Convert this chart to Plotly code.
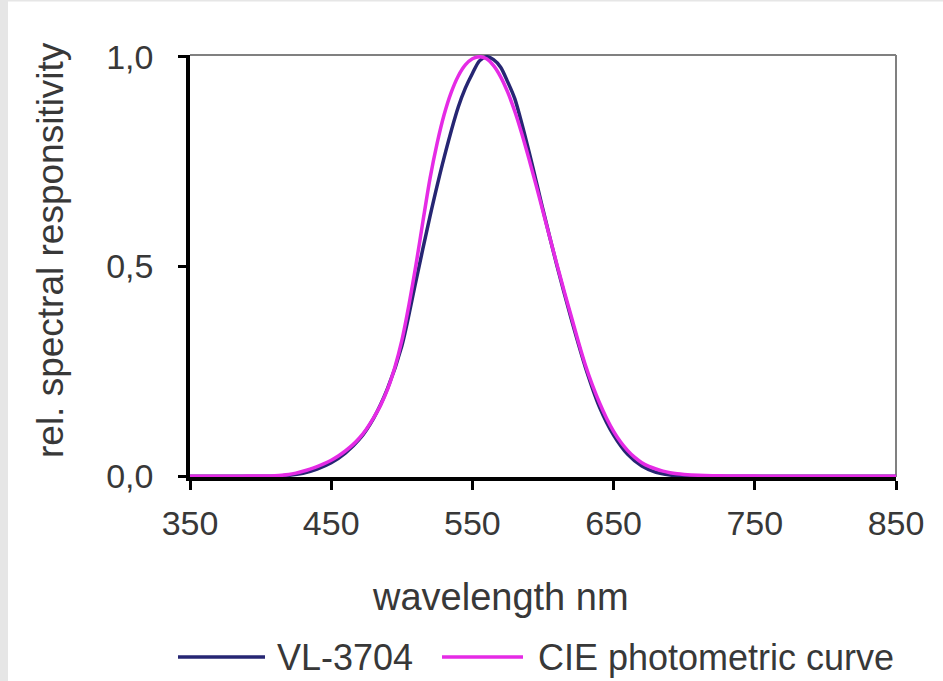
import plotly.graph_objects as go

# ---- data ----
cie_wl = [350, 360, 370, 380, 385, 390, 395, 400, 405, 410, 415, 420, 425, 430, 435, 440, 445,
          450, 455, 460, 465, 470, 475, 480, 485, 490, 495, 500, 505, 510, 515, 520, 525,
          530, 535, 540, 545, 550, 555, 560, 565, 570, 575, 580, 585, 590, 595, 600, 605,
          610, 615, 620, 625, 630, 635, 640, 645, 650, 655, 660, 665, 670, 675, 680, 685,
          690, 695, 700, 710, 720, 730, 740, 750, 760, 770, 780, 800, 820, 850]
cie_val = [0, 0, 0, 0.00004, 0.00006, 0.00012, 0.00022, 0.0004, 0.00064, 0.0012, 0.0022, 0.004,
           0.0073, 0.0116, 0.0168, 0.023, 0.0298, 0.038, 0.048, 0.06, 0.0739, 0.091, 0.1126,
           0.139, 0.1693, 0.208, 0.2586, 0.323, 0.4073, 0.503, 0.6082, 0.71, 0.7932, 0.862,
           0.9149, 0.954, 0.9803, 0.995, 1.0, 0.995, 0.9786, 0.952, 0.9154, 0.87, 0.8163,
           0.757, 0.6949, 0.631, 0.5668, 0.503, 0.4412, 0.381, 0.321, 0.265, 0.217, 0.175,
           0.1382, 0.107, 0.0816, 0.061, 0.0446, 0.032, 0.0232, 0.017, 0.0119, 0.0082,
           0.0057, 0.0041, 0.0021, 0.001, 0.0005, 0.00025, 0.00012, 0.00006, 0.00003,
           0.000015, 0, 0, 0]

vl_wl = [350, 380, 400, 410, 420, 430, 440, 450, 460, 470, 480, 490, 500, 510, 520, 530, 540,
         545, 550, 555, 560, 565, 570, 575, 580, 590, 600, 610, 620, 630, 640, 650, 660, 670,
         680, 690, 700, 750, 800, 850]
vl_val = [0, 0, 0, 0, 0.002, 0.007, 0.017, 0.032, 0.055, 0.088, 0.138, 0.21, 0.31, 0.465,
          0.62, 0.76, 0.88, 0.925, 0.96, 0.99, 1.0, 0.993, 0.975, 0.94, 0.9, 0.775, 0.635,
          0.5, 0.375, 0.26, 0.165, 0.098, 0.052, 0.024, 0.009, 0.003, 0, 0, 0, 0]

series_names = ["VL-3704", "CIE photometric curve"]
series_colors = ["#262673", "#e52be5"]

x_ticks = [350, 450, 550, 650, 750, 850]
y_ticks = [0, 0.5, 1.0]
x_title = "wavelength nm"
y_title = "rel. spectral responsitivity"

# ---- layout geometry (pixels) ----
W, H = 943, 681
L, R, T, B = 190, 47, 55, 204
PW, PH = W - L - R, H - T - B


def xp(px):
    return (px - L) / PW


def yp(py):
    return (H - B - py) / PH


FONT = "Liberation Sans, Arial, sans-serif"
TXT = "#383838"

fig = go.Figure()
fig.add_trace(go.Scatter(x=vl_wl, y=vl_val, mode="lines", name=series_names[0],
                         line=dict(color=series_colors[0], width=3.5, shape="spline", smoothing=0.8),
                         showlegend=False))
fig.add_trace(go.Scatter(x=cie_wl, y=cie_val, mode="lines", name=series_names[1],
                         line=dict(color=series_colors[1], width=3.5, shape="spline", smoothing=0.8),
                         showlegend=False))

shapes = [
    # light gray frame strips of the picture
    dict(type="rect", xref="paper", yref="paper", x0=xp(0), x1=xp(8), y0=yp(H + 5), y1=yp(-5),
         fillcolor="#e6e6e6", line=dict(width=0), layer="below"),
    dict(type="rect", xref="paper", yref="paper", x0=xp(0), x1=xp(W + 5), y0=yp(1.5), y1=yp(-5),
         fillcolor="#e6e6e6", line=dict(width=0), layer="below"),
    # gray top and right border of plot area
    dict(type="line", xref="paper", yref="paper", x0=0, x1=1, y0=1, y1=1,
         line=dict(color="#808080", width=2), layer="below"),
    dict(type="line", xref="paper", yref="paper", x0=1, x1=1, y0=0, y1=1,
         line=dict(color="#808080", width=2), layer="below"),
]

annotations = [
    dict(text=x_title, xref="paper", yref="paper", x=xp(500), y=yp(597), xanchor="center",
         yanchor="middle", showarrow=False, font=dict(family=FONT, size=38, color=TXT)),
    dict(text=y_title, xref="paper", yref="paper", x=xp(50), y=yp(250), xanchor="center",
         yanchor="middle", textangle=-90, showarrow=False, font=dict(family=FONT, size=37, color=TXT)),
]

# custom legend
legend_items = [(178, 265, 275), (442, 523, 536)]
for (x0, x1, tx), name, col in zip(legend_items, series_names, series_colors):
    shapes.append(dict(type="line", xref="paper", yref="paper", x0=xp(x0), x1=xp(x1),
                       y0=yp(657), y1=yp(657), line=dict(color=col, width=3.5)))
    annotations.append(dict(text=name, xref="paper", yref="paper", x=xp(tx), y=yp(657),
                            xanchor="left", yanchor="middle", showarrow=False,
                            font=dict(family=FONT, size=36, color=TXT)))

fig.update_layout(
    width=W, height=H,
    margin=dict(l=L, r=R, t=T, b=B, pad=0),
    paper_bgcolor="white", plot_bgcolor="white",
    separators=", ",
    shapes=shapes, annotations=annotations,
    showlegend=False,
    xaxis=dict(range=[350, 850], tickvals=x_ticks, ticks="outside", ticklen=9, tickwidth=2.5,
               tickcolor="black", showline=True, linecolor="black", linewidth=3.5,
               showgrid=False, zeroline=False, layer="below traces",
               tickfont=dict(family=FONT, size=34, color=TXT), ticklabelstandoff=4),
    yaxis=dict(range=[-0.002, 1.004], tickvals=y_ticks, tickformat=".1f", ticks="outside",
               ticklen=8, tickwidth=2.5, tickcolor="black", showline=True, linecolor="black",
               linewidth=3.5, showgrid=False, zeroline=False, layer="below traces",
               tickfont=dict(family=FONT, size=34, color=TXT), ticklabelstandoff=18),
)

fig.write_html("out.html", config={"displayModeBar": False},
               post_script="document.body.style.margin='0px';")
